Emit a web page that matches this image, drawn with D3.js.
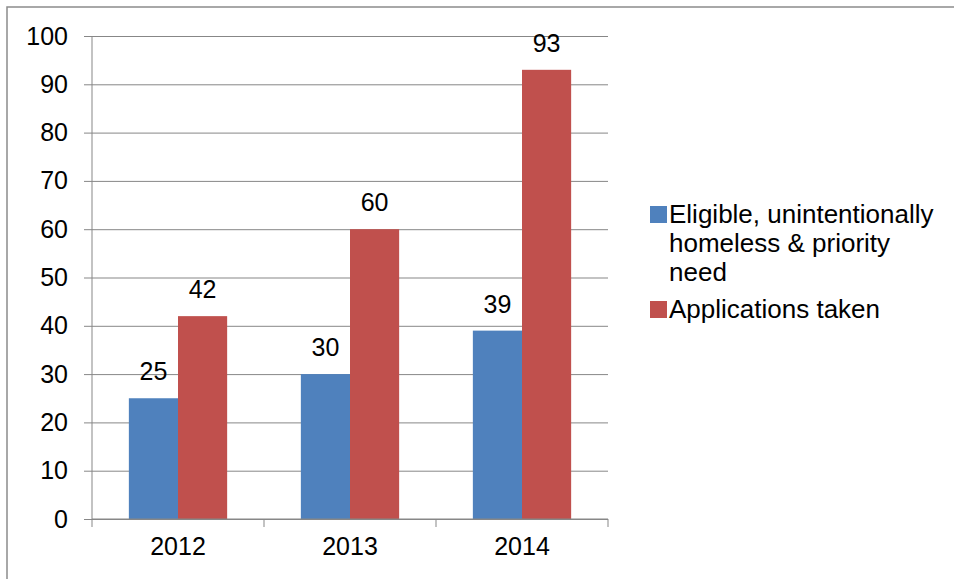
<!DOCTYPE html>
<html>
<head>
<meta charset="utf-8">
<script src="https://cdn.jsdelivr.net/npm/d3@7"></script>
<style>
  body { margin: 0; background: #fff; }
  svg { display: block; font-family: "Liberation Sans", Arial, sans-serif; }
</style>
</head>
<body>
<div id="chart"></div>
<script>
// Data
const years = ["2012", "2013", "2014"];
const seriesNames = ["Eligible, unintentionally homeless & priority need", "Applications taken"];
const eligible = [25, 30, 39];
const applications = [42, 60, 93];
const yTicks = [0, 10, 20, 30, 40, 50, 60, 70, 80, 90, 100];
const legendLines = [["Eligible, unintentionally", "homeless & priority", "need"], ["Applications taken"]];
const colors = ["#4F81BD", "#C0504D"];

const width = 954;
const height = 579;
const margin = { top: 36, right: 346, bottom: 60, left: 92 };

const data = years.map((y, i) => ({ year: y, values: [eligible[i], applications[i]] }));

const svg = d3.select("#chart").append("svg")
    .attr("width", width)
    .attr("height", height);

// outer chart border (right and bottom run past the picture)
svg.append("rect")
    .attr("x", 7)
    .attr("y", 7)
    .attr("width", width + 20)
    .attr("height", height + 20)
    .attr("fill", "none")
    .attr("stroke", "#8c8c8c")
    .attr("stroke-width", 1.5);

const x0 = d3.scaleBand()
    .domain(years)
    .range([margin.left, width - margin.right]);

const x1 = d3.scaleBand()
    .domain([0, 1])
    .range([0, x0.bandwidth()])
    .paddingOuter(0.75);

const y = d3.scaleLinear()
    .domain([0, 100])
    .range([height - margin.bottom, margin.top]);

// y axis with gridlines
svg.append("g")
    .attr("transform", `translate(${margin.left},0)`)
    .call(d3.axisLeft(y).tickValues(yTicks).tickSize(8).tickPadding(16))
    .call(g => g.select(".domain").attr("stroke", "#878787").attr("d", `M0,${y(0)}V${y(100)}`))
    .call(g => g.selectAll(".tick line").attr("stroke", "#878787"))
    .call(g => g.selectAll(".tick").append("line")
        .attr("x1", 0)
        .attr("x2", width - margin.right - margin.left)
        .attr("stroke", "#878787"))
    .call(g => g.selectAll(".tick text")
        .attr("fill", "#000")
        .attr("font-size", 25)
        .attr("font-family", "Liberation Sans, Arial, sans-serif"));

// bars
const groups = svg.append("g")
    .selectAll("g")
    .data(data)
    .join("g")
    .attr("transform", d => `translate(${x0(d.year)},0)`);

groups.selectAll("rect")
    .data(d => d.values)
    .join("rect")
    .attr("x", (d, i) => x1(i))
    .attr("y", d => y(d))
    .attr("width", x1.bandwidth())
    .attr("height", d => y(0) - y(d))
    .attr("fill", (d, i) => colors[i]);

groups.selectAll("text")
    .data(d => d.values)
    .join("text")
    .attr("x", (d, i) => x1(i) + x1.bandwidth() / 2)
    .attr("y", d => y(d) - 18)
    .attr("text-anchor", "middle")
    .attr("font-size", 25)
    .attr("fill", "#000")
    .text(d => d);

// x axis
svg.append("g")
    .attr("transform", `translate(0,${y(0)})`)
    .call(d3.axisBottom(x0).tickSize(0).tickPadding(18))
    .call(g => g.select(".domain").attr("stroke", "#878787").attr("d", `M${margin.left},0H${width - margin.right}`))
    .call(g => g.selectAll(".tick text")
        .attr("fill", "#000")
        .attr("font-size", 25)
        .attr("font-family", "Liberation Sans, Arial, sans-serif"));

// category separator ticks
const bounds = years.map(d => x0(d)).concat([x0.range()[1]]);
svg.append("g")
    .selectAll("line")
    .data(bounds)
    .join("line")
    .attr("x1", d => d)
    .attr("x2", d => d)
    .attr("y1", y(0))
    .attr("y2", y(0) + 8)
    .attr("stroke", "#878787");

// legend
const legendX = 650;
const legendY = [223, 318];
const legend = svg.append("g")
    .selectAll("g")
    .data(seriesNames)
    .join("g")
    .attr("transform", (d, i) => `translate(${legendX},${legendY[i]})`);

legend.append("rect")
    .attr("x", 0)
    .attr("y", -17)
    .attr("width", 17)
    .attr("height", 17)
    .attr("fill", (d, i) => colors[i]);

legend.append("text")
    .attr("font-size", 26)
    .attr("fill", "#000")
    .selectAll("tspan")
    .data((d, i) => legendLines[i])
    .join("tspan")
    .attr("x", 19)
    .attr("y", (d, i) => i * 29)
    .text(d => d);
</script>
</body>
</html>
